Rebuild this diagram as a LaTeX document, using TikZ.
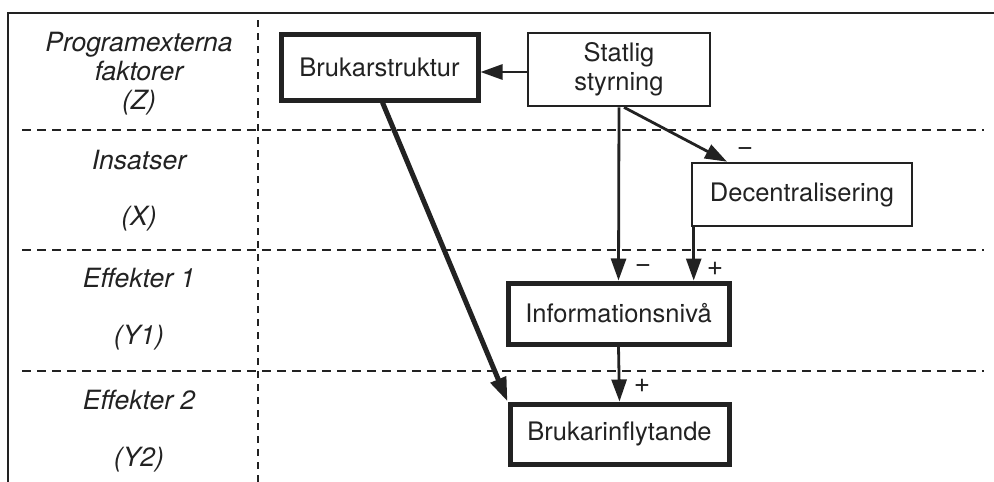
\documentclass[tikz,border=0pt]{standalone}
\usepackage{fontspec}
\setmainfont{TeX Gyre Heros}
\usetikzlibrary{arrows.meta,calc}
\definecolor{ink}{HTML}{222222}
\tikzset{
  every node/.style={text=ink,font=\fontsize{25.5}{29}\selectfont},
  thinbox/.style={draw=ink,line width=2.6pt,align=center,inner sep=0pt},
  thickbox/.style={draw=ink,line width=5pt,align=center,inner sep=0pt},
  rowlabel/.style={font=\fontsize{26.5}{29}\selectfont\itshape,align=center},
  sign/.style={font=\fontsize{28}{29}\selectfont,inner sep=0pt},
  grid/.style={draw=ink,line width=2.3pt,dash pattern=on 9pt off 6pt},
  colgrid/.style={draw=ink,line width=2.3pt,dash pattern=on 7pt off 6pt},
  arr/.style={draw=ink,line width=2.8pt,-{Triangle[length=22pt,width=15pt]}},
  thickarr/.style={draw=ink,line width=5pt,-{Triangle[length=24pt,width=16pt]}},
}
\begin{document}
\begin{tikzpicture}[x=1pt,y=-1pt]
\useasboundingbox[fill=white] (0,0) rectangle (994,482);

% outer frame (top and left edges)
\draw[ink,line width=2.8pt] (8,482) -- (8,13) -- (994,13);

% row separators and column separator
\draw[grid] (22,130) -- (984,130);
\draw[grid] (22,250) -- (984,250);
\draw[grid] (22,371) -- (984,371);
\draw[colgrid] (258,20) -- (258,482);

% row labels
\node[rowlabel] (lz) at (139,74) {Programexterna\\faktorer\\(Z)};
\node[rowlabel] (lx1) at (139,160) {Insatser};
\node[rowlabel] (lx2) at (139,219) {(X)};
\node[rowlabel] (ly1a) at (139,278) {Effekter 1};
\node[rowlabel] (ly1b) at (139,338) {(Y1)};
\node[rowlabel] (ly2a) at (139,400) {Effekter 2};
\node[rowlabel] (ly2b) at (139,460) {(Y2)};

% variables
\node[thickbox,minimum width=197pt,minimum height=66pt] (bs) at (379.5,67) {Brukarstruktur};
\node[thinbox,minimum width=182pt,minimum height=73pt] (st) at (619,69.5) {Statlig\\styrning};
\node[thinbox,minimum width=220pt,minimum height=63pt] (dc) at (802,194.5) {Decentralisering};
\node[thickbox,minimum width=221pt,minimum height=61pt] (in) at (618.5,313.5) {Informationsnivå};
\node[thickbox,minimum width=219pt,minimum height=60pt] (bi) at (619.5,434) {Brukarinflytande};

% effects
\draw[arr] (st.west |- 0,72) -- (bs.east |- 0,72);
\draw[arr] (st.south) -- (in.north);
\draw[arr] ([xshift=5pt]st.south) -- ([xshift=-75pt]dc.north);
\draw[arr] ([xshift=3pt]dc.south west) -- ([xshift=3pt]dc.south west |- in.north);
\draw[arr] (in.south) -- (bi.north);
\draw[thickarr] ([xshift=3pt]bs.south) -- (bi.north west);

% signs
\node[sign] (s1) at (745,152) {−};
\node[sign] (s2) at (643,269) {−};
\node[sign] (s3) at (715,269) {+};
\node[sign] (s4) at (642,386) {+};
\end{tikzpicture}
\end{document}
